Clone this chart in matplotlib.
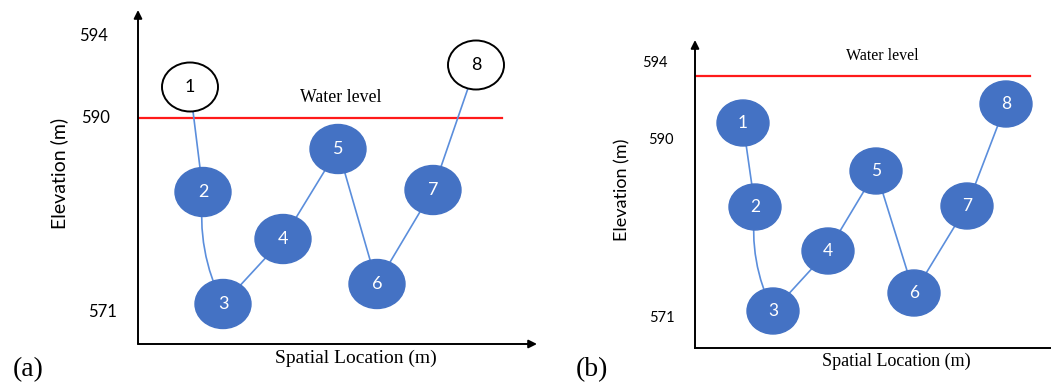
import matplotlib.pyplot as plt
from matplotlib.patches import Ellipse, FancyArrowPatch

# schematic drawing units (pixels from each panel's axis origin)
node_labels = ["1", "2", "3", "4", "5", "6", "7", "8"]

a_x = [52, 65, 85, 145, 200, 239, 295, 338]
a_y = [257, 152, 40, 105, 195, 60, 154, 279]
a_filled = [False, True, True, True, True, True, True, False]
a_water = 226
a_ticks = [308, 226, 32]
a_tick_labels = ["594", "590", "571"]

b_x = [48, 60, 78, 133, 181, 219, 272, 311]
b_y = [225, 141, 37, 97, 177, 55, 142, 244]
b_filled = [True] * 8
b_water = 272
b_ticks = [285, 208, 30]
b_tick_labels = ["594", "590", "571"]

# curvature of each connector (2->3 bows a little)
bends = [0, 0.15, 0, 0, 0, 0, 0]

W, H = 1051, 385
BLUE = "#4472C4"
LINE = "#5B8EDC"
SANS = ["Lato", "DejaVu Sans"]
SERIF = ["Liberation Serif", "DejaVu Serif"]

fig = plt.figure(figsize=(W / 100, H / 100), dpi=100)


def make_axes(x0, y0, w, h):
    ax = fig.add_axes([x0 / W, (H - y0) / H, w / W, h / H])
    ax.set_xlim(0, w)
    ax.set_ylim(0, h)
    ax.axis("off")
    return ax


def draw_panel(ax, xs, ys, filled, water, ticks, tick_labels, tick_pad,
               w, h, ell, water_txt, spatial_txt, elev_txt, tag, tag_txt,
               fs, x_arrow):
    # axes with arrows
    ax.annotate("", xy=(0, h), xytext=(0, 0),
                arrowprops=dict(arrowstyle="-|>", lw=1.4, color="black",
                                mutation_scale=12, shrinkA=0, shrinkB=0))
    if x_arrow:
        ax.annotate("", xy=(w, 0), xytext=(0, 0),
                    arrowprops=dict(arrowstyle="-|>", lw=1.4, color="black",
                                    mutation_scale=12, shrinkA=0, shrinkB=0))
    else:
        ax.plot([0, w], [0, 0], color="black", lw=1.4, clip_on=False)

    ax.plot([0, water[1]], [water[0], water[0]], color="#FF1a1a", lw=1.6)
    ax.text(water_txt[0], water_txt[1], "Water level", ha="center", va="center",
            family=SERIF, fontsize=fs[0])

    for i in range(len(xs) - 1):
        con = FancyArrowPatch((xs[i], ys[i]), (xs[i + 1], ys[i + 1]),
                              arrowstyle="-", shrinkA=0, shrinkB=0,
                              connectionstyle="arc3,rad=%s" % bends[i],
                              color=LINE, lw=1.2, zorder=2)
        ax.add_patch(con)

    for i in range(len(xs)):
        if filled[i]:
            e = Ellipse((xs[i], ys[i]), ell[0], ell[1], facecolor=BLUE,
                        edgecolor=BLUE, lw=1, zorder=3)
            col = "white"
        else:
            e = Ellipse((xs[i], ys[i]), ell[0], ell[1], facecolor="white",
                        edgecolor="black", lw=1.4, zorder=3)
            col = "black"
        ax.add_patch(e)
        ax.text(xs[i], ys[i], node_labels[i], ha="center", va="center",
                color=col, family=SANS, fontsize=fs[1], zorder=4)

    for t, lab, p in zip(ticks, tick_labels, tick_pad):
        ax.text(-p, t, lab, ha="right", va="center", family=SANS,
                fontsize=fs[2], clip_on=False)

    ax.text(elev_txt[0], elev_txt[1], "Elevation (m)", rotation=90,
            ha="center", va="center", family=SANS, fontsize=fs[3])
    ax.text(spatial_txt[0], spatial_txt[1], "Spatial Location (m)",
            ha="center", va="center", family=SERIF, fontsize=fs[4])
    ax.text(tag_txt[0], tag_txt[1], tag, ha="center", va="center",
            family=SERIF, fontsize=20)


ax_a = make_axes(138, 344, 399, 334)
draw_panel(ax_a, a_x, a_y, a_filled, (a_water, 364), a_ticks, a_tick_labels,
           (30, 28, 21), 399, 334, (56, 49), (203, 246), (218, -14),
           (-79, 171), "(a)", (-110, -26), (12.8, 13, 12, 14, 14), True)

ax_b = make_axes(695, 348, 356, 308)
draw_panel(ax_b, b_x, b_y, b_filled, (b_water, 335), b_ticks, b_tick_labels,
           (27, 21, 20), 356, 308, (52, 46), (187, 292), (201, -13),
           (-73, 158), "(b)", (-103, -22), (11.5, 12.5, 10.5, 13, 13), False)

fig.savefig("out.png", dpi=100)
